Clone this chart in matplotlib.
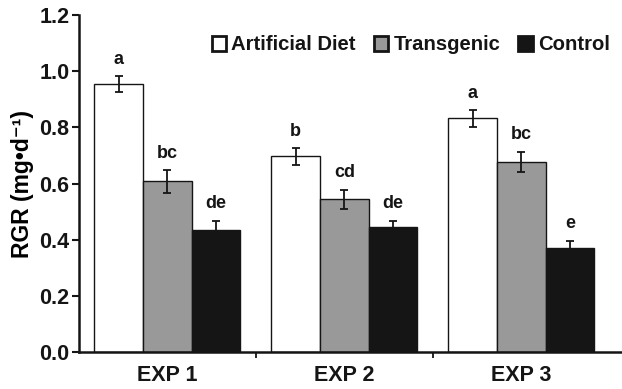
import matplotlib.pyplot as plt
from matplotlib.ticker import FormatStrFormatter
import numpy as np

# data
experiments = ['EXP 1', 'EXP 2', 'EXP 3']
treatments = ['Artificial Diet', 'Transgenic', 'Control']
rgr_diet = [0.955, 0.697, 0.832]
rgr_trans = [0.608, 0.545, 0.677]
rgr_ctrl = [0.435, 0.444, 0.371]
err_diet = [0.027, 0.030, 0.030]
err_trans = [0.041, 0.034, 0.037]
err_ctrl = [0.033, 0.024, 0.026]
letters_diet = ['a', 'b', 'a']
letters_trans = ['bc', 'cd', 'bc']
letters_ctrl = ['de', 'de', 'e']

plt.rcParams['font.family'] = ['Liberation Sans', 'DejaVu Sans']
plt.rcParams['font.weight'] = 'bold'
plt.rcParams['text.color'] = '#151515'
plt.rcParams['xtick.color'] = '#151515'
plt.rcParams['ytick.color'] = '#151515'

fig = plt.figure(figsize=(6.22, 3.89), dpi=100)
ax = fig.add_axes([0.127, 0.095, 0.873, 0.866])

centers = np.arange(len(experiments)) + 0.5
width = 0.275
colors = ['white', '#999999', '#151515']
series = [(rgr_diet, err_diet, letters_diet),
          (rgr_trans, err_trans, letters_trans),
          (rgr_ctrl, err_ctrl, letters_ctrl)]

for i, (vals, errs, lets) in enumerate(series):
    xs = centers + (i - 1) * width
    ax.bar(xs, vals, width, color=colors[i], edgecolor='#151515',
           linewidth=1.0, label=treatments[i], zorder=2)
    ax.errorbar(xs, vals, yerr=errs, fmt='none', ecolor='#151515',
                elinewidth=1.3, capsize=2.6, capthick=1.3, zorder=3)
    for x, v, e, t in zip(xs, vals, errs, lets):
        ax.annotate(t, (x, v + e), xytext=(0, 6), textcoords='offset points',
                    ha='center', va='bottom', fontsize=13, fontweight='bold')

ax.set_xlim(0, 3.07)
ax.set_ylim(0, 1.2)
ax.set_yticks(np.arange(0, 1.21, 0.2))
ax.yaxis.set_major_formatter(FormatStrFormatter('%.1f'))
ax.set_xticks(centers)
ax.set_xticklabels(experiments)
ax.set_xticks([1, 2], minor=True)
ax.tick_params(axis='x', which='major', length=0, pad=9, labelsize=15.5)
ax.tick_params(axis='x', which='minor', length=4, width=1.3, direction='out')
ax.tick_params(axis='y', length=5, width=1.5, direction='out', labelsize=15.5, pad=2)

for s in ['top', 'right']:
    ax.spines[s].set_visible(False)
for s in ['left', 'bottom']:
    ax.spines[s].set_linewidth(1.8)
    ax.spines[s].set_color('#151515')

ax.set_ylabel('RGR (mg\u2022d\u207b\u00b9)', fontsize=16.5, fontweight='bold', labelpad=4)

leg = fig.legend(loc='center right', bbox_to_anchor=(0.993, 1 - 45 / 389), ncol=3,
                 frameon=False, fontsize=14.6, handlelength=0.7, handleheight=0.7,
                 handletextpad=0.25, columnspacing=0.9, borderaxespad=0)
for h in leg.legend_handles:
    h.set_linewidth(2.0)

fig.savefig('out.png', dpi=100)
